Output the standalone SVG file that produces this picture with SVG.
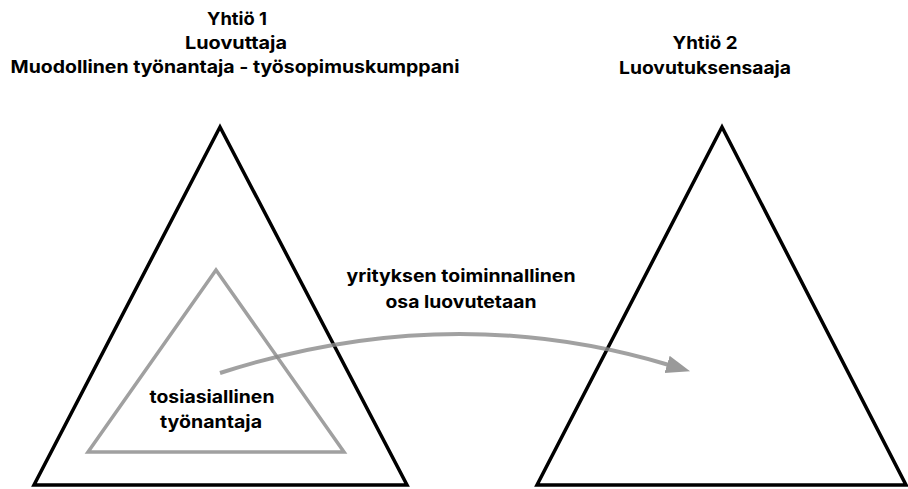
<svg xmlns="http://www.w3.org/2000/svg" width="908" height="489" viewBox="0 0 908 489">
<style>
.t{font-family:Inter,"Liberation Sans",sans-serif;font-weight:700;font-size:17.5px;fill:#000;text-anchor:middle}
.big{fill:none;stroke:#000;stroke-width:3.5;stroke-linejoin:miter}
.inner{fill:none;stroke:#a0a0a0;stroke-width:3.5}
.arrow{fill:none;stroke:#8a8a8a;stroke-opacity:0.8;stroke-width:4}
</style>
<defs>
<marker id="ah" markerUnits="userSpaceOnUse" markerWidth="28" markerHeight="22" refX="2" refY="9" orient="auto">
<path d="M0,0 L24,9 L0,18 Z" fill="#9a9a9a"/>
</marker>
</defs>
<rect width="908" height="489" fill="#fff"/>
<g id="yhtio1">
<polygon class="big" points="220,127 34,485 407,485"/>
<text class="t" x="237" y="25" textLength="60" lengthAdjust="spacingAndGlyphs">Yhtiö 1</text>
<text class="t" x="236" y="49" textLength="102" lengthAdjust="spacingAndGlyphs">Luovuttaja</text>
<text class="t" x="235" y="73" textLength="449" lengthAdjust="spacingAndGlyphs">Muodollinen työnantaja - työsopimuskumppani</text>
</g>
<g id="tosiasiallinen">
<polygon class="inner" points="216,270 88,452 344,452"/>
<text class="t" x="212" y="403" textLength="125" lengthAdjust="spacingAndGlyphs">tosiasiallinen</text>
<text class="t" x="211" y="428" textLength="102" lengthAdjust="spacingAndGlyphs">työnantaja</text>
</g>
<g id="yhtio2">
<polygon class="big" points="722,127 537,485 906,485"/>
<text class="t" x="705" y="49" textLength="65" lengthAdjust="spacingAndGlyphs">Yhtiö 2</text>
<text class="t" x="705" y="74" textLength="172" lengthAdjust="spacingAndGlyphs">Luovutuksensaaja</text>
</g>
<g id="connectors">
<path class="arrow" d="M220,373 Q449,299 669,365" marker-end="url(#ah)"/>
<text class="t" x="461" y="282" textLength="229" lengthAdjust="spacingAndGlyphs">yrityksen toiminnallinen</text>
<text class="t" x="461" y="308" textLength="151" lengthAdjust="spacingAndGlyphs">osa luovutetaan</text>
</g>
</svg>
